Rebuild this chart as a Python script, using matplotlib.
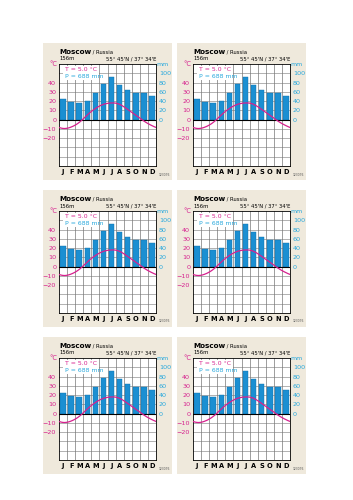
import matplotlib
matplotlib.use('Agg')
import matplotlib.pyplot as plt
from matplotlib.patches import Rectangle
import numpy as np

months = ['J', 'F', 'M', 'A', 'M', 'J', 'J', 'A', 'S', 'O', 'N', 'D']
temp = [-9.5, -8.0, -3.0, 5.0, 12.0, 16.5, 18.0, 16.5, 11.0, 5.0, -1.5, -6.5]
precip = [44, 38, 35, 40, 58, 76, 92, 74, 64, 58, 58, 51]
temp_ticks = [-20, -10, 0, 10, 20, 30, 40]
mm_ticks = [0, 20, 40, 60, 80, 100]

city = 'Moscow'
country = '/ Russia'
elev = '156m'
coords = "55° 45'N / 37° 34'E"
t_text = 'T = 5.0 °C'
p_text = 'P = 688 mm'
code = '123076'

MAG = '#d6218e'
CYAN = '#27a8dc'
BAR = '#1b8fd2'
BEIGE = '#efe9dc'

W, H = 353, 500
fig = plt.figure(figsize=(W / 100, H / 100), dpi=100)
fig.patch.set_facecolor('white')


def frac(x, y, w, h):
    return [x / W, 1 - (y + h) / H, w / W, h / H]


def smooth_temp(t):
    # periodic trig interpolation of monthly means for a smooth curve
    t = np.asarray(t)
    n = len(t)
    c = np.fft.rfft(t) / n
    xs = np.linspace(0, 12, 400)
    ph = xs - 0.5
    y = np.full_like(xs, c[0].real)
    for k in range(1, n // 2 + 1):
        f = 2 if k < n // 2 else 1
        y += f * (c[k].real * np.cos(2 * np.pi * k * ph / n) - c[k].imag * np.sin(2 * np.pi * k * ph / n))
    return xs, y


def draw_panel(L, T):
    pw, ph = 129, 137
    bg = fig.add_axes(frac(L, T, pw, ph))
    bg.set_facecolor(BEIGE)
    bg.set_xticks([])
    bg.set_yticks([])
    for s in bg.spines.values():
        s.set_visible(False)
    bg.set_xlim(0, pw)
    bg.set_ylim(ph, 0)

    t1 = bg.text(16, 9, city, fontsize=5.2, fontweight='bold', va='center', ha='left')
    bg.annotate(' ' + country, xy=(1, 0.5), xycoords=t1, fontsize=3.8, va='center', ha='left')
    bg.text(16, 16, elev, fontsize=3.8, va='center', ha='left')
    bg.text(113, 16, coords, fontsize=3.8, va='center', ha='right')
    bg.text(14.5, 21, '°C', fontsize=4.8, color=MAG, va='center', ha='right')
    bg.text(113.5, 21.5, 'mm', fontsize=4.5, color=CYAN, va='center', ha='left')
    bg.text(116, 131.5, code, fontsize=2.2, va='center', ha='left', color='#555555')

    ax = fig.add_axes(frac(L + 16, T + 21, 97, 102))
    ax.set_facecolor('white')
    ax.set_xlim(0, 12)
    ax.set_ylim(-50, 60)
    x = np.arange(12) + 0.5
    ax.bar(x, np.array(precip) / 2.0, width=0.68, color=BAR, edgecolor='#0f6fa8', linewidth=0.3, zorder=2)
    for gx in range(1, 12):
        ax.axvline(gx, color='#555555', lw=0.4, zorder=1)
    for gy in range(-40, 60, 10):
        ax.axhline(gy, color='#777777', lw=0.4, zorder=1)
    ax.axhline(0, color='black', lw=0.8, zorder=3)
    xs, ys = smooth_temp(temp)
    ax.plot(xs, ys, color=MAG, lw=0.9, zorder=4)

    ax.set_xticks(x)
    ax.set_xticklabels(months, fontsize=4.8, fontweight='bold')
    ax.set_yticks(temp_ticks)
    ax.set_yticklabels([str(t).replace('-', '−') for t in temp_ticks], fontsize=4.6, color=MAG)
    ax.tick_params(axis='both', length=0, pad=2)
    for s in ax.spines.values():
        s.set_linewidth(0.6)

    ax2 = ax.twinx()
    ax2.set_ylim(-100, 120)
    ax2.set_yticks(mm_ticks)
    ax2.set_yticklabels([str(m) for m in mm_ticks], fontsize=4.6, color=CYAN)
    ax2.tick_params(axis='y', length=0, pad=2)
    for s in ax2.spines.values():
        s.set_visible(False)

    ax.add_patch(Rectangle((0.45, 43.0), 4.5, 14.5, facecolor='white', edgecolor='none', zorder=5))
    ax.text(0.8, 54.0, t_text, fontsize=4.4, color=MAG, va='center', ha='left', zorder=6)
    ax.text(0.8, 47.0, p_text, fontsize=4.4, color=CYAN, va='center', ha='left', zorder=6)


for T in [43, 190, 337]:
    for L in [43, 177]:
        draw_panel(L, T)

fig.savefig('out.png', dpi=100, facecolor='white')
